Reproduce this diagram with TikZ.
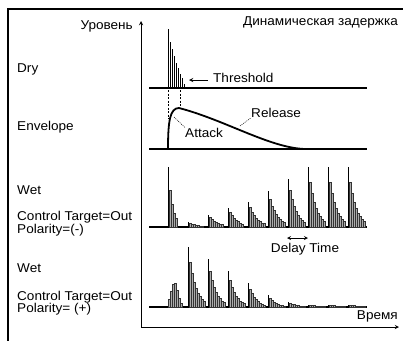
\documentclass[tikz,border=0pt]{standalone}
\usepackage{fontspec}
\setmainfont{Liberation Sans}[FakeStretch=1.06]
\usetikzlibrary{arrows,calc}

% one delay burst: x, baseline, height, decay, number of bars
\newcommand{\tapburst}[5]{%
  \draw[tapfirst] (#1,#2) -- ++(0,-#3);
  \foreach \k in {1,...,#5}
    \filldraw[tapbar] ({#1+2*\k-0.7},#2) rectangle ++(1.4,{-#3*(#4)^\k});
}

\begin{document}
\begin{tikzpicture}[
    x=1pt, y=-1pt,
    lbl/.style={font=\fontsize{12.8}{14}\selectfont, inner sep=0pt},
    frameline/.style={line width=1.2pt},
    axis/.style={line width=0.9pt, ->, >=stealth},
    baseline/.style={line width=1.2pt},
    dryline/.style={line width=0.8pt},
    tapfirst/.style={line width=0.9pt},
    tapbar/.style={fill=gray!65, draw=gray!40!black, line width=0.2pt},
    envline/.style={line width=1.8pt},
    guide/.style={line width=0.6pt, dash pattern=on 2pt off 1.5pt},
    leader/.style={line width=0.5pt, dash pattern=on 1pt off 1pt},
    arrow/.style={->, >=stealth, line width=0.9pt},
    darrow/.style={<->, >=stealth, line width=0.8pt}
]
\useasboundingbox (0,0) rectangle (403,341);

% Frame
\draw[frameline] (403,9) -- (8,9) -- (8,341);

% Axes
\coordinate (origin) at (141,327);
\coordinate (ytip) at (141,21);
\coordinate (xtip) at (399,327);
\draw[axis] (origin) -- (ytip);
\draw[axis] (origin) -- (xtip);
\node[lbl, anchor=base east] (level) at (133,29) {Уровень};
\node[lbl, anchor=base east] (title) at (398,25) {Динамическая задержка};
\node[lbl, anchor=base east] (time) at (398,319) {Время};

% Row labels
\node[lbl, anchor=base west] (dry) at (17,72) {Dry};
\node[lbl, anchor=base west] (env) at (17,130) {Envelope};
\node[lbl, anchor=base west] (wet1) at (17,194) {Wet};
\node[lbl, anchor=base west] (ct1) at (17,220) {Control Target=Out};
\node[lbl, anchor=base west] (pol1) at (17,233) {Polarity=(-)};
\node[lbl, anchor=base west] (wet2) at (17,272) {Wet};
\node[lbl, anchor=base west] (ct2) at (17,300) {Control Target=Out};
\node[lbl, anchor=base west] (pol2) at (17,312) {Polarity= (+)};

% Baselines
\draw[baseline] (149,88) -- (367,88);
\draw[baseline] (149,149) -- (367,149);
\draw[baseline] (149,227) -- (367,227);
\draw[baseline] (149,307) -- (367,307);

% Dry signal
\foreach \x/\h in {168/59,170/46,172/39,174/32,176/25,178/20,180/14,182/10,184/4}
  \draw[dryline] (\x,88) -- ++(0,-\h);
\node[lbl, anchor=base west] (thr) at (213,82) {Threshold};
\coordinate (thrstart) at (208,80);
\coordinate (thrtip) at (189,80);
\draw[arrow] (thrstart) -- (thrtip);

% Envelope
\draw[guide] (168,90) -- (168,119);
\draw[guide] (180,90) -- (180,108);
\draw[envline] (168,149) .. controls (168,121) and (170,108) .. (179,108)
  .. controls (225,120) and (270,148) .. (305,149);
\node[lbl, anchor=base west] (attack) at (185,137) {Attack};
\node[lbl, anchor=base west] (release) at (251,117.5) {Release};
\coordinate (atkpt) at (174,117);
\coordinate (relpt) at (240,126);
\draw[leader] (atkpt) -- (attack.north west);
\draw[leader] (relpt) -- (release.south west);

% Wet, polarity (-)
\foreach \x/\h/\d/\n in {168/60/0.62/4, 188/5/0.8/7, 208/12/0.8/7, 228/19/0.78/7,
    248/25/0.78/8, 268/36/0.77/8, 288/48/0.76/8, 308/60/0.75/8, 328/60/0.75/8, 348/60/0.75/8}
  {\tapburst{\x}{227}{\h}{\d}{\n}}

% Delay time
\coordinate (dl) at (287,238);
\coordinate (dr) at (308,238);
\draw[darrow] (dl) -- (dr);
\node[lbl, anchor=base] (delay) at (305,252.5) {Delay Time};

% Wet, polarity (+)
\foreach \x/\h in {169/8,171/16,173/23,175/24,177/17,179/9,181/4}
  \filldraw[tapbar] (\x-0.7,307) rectangle ++(1.4,-\h);
\foreach \x/\h/\d/\n in {188/60/0.75/8, 208/48/0.75/8, 228/36/0.75/8, 248/24/0.75/8,
    268/12/0.75/8, 288/5/0.8/8, 308/2/0.9/8, 328/2/0.9/8, 348/2/0.9/8}
  {\tapburst{\x}{307}{\h}{\d}{\n}}

\end{tikzpicture}
\end{document}
